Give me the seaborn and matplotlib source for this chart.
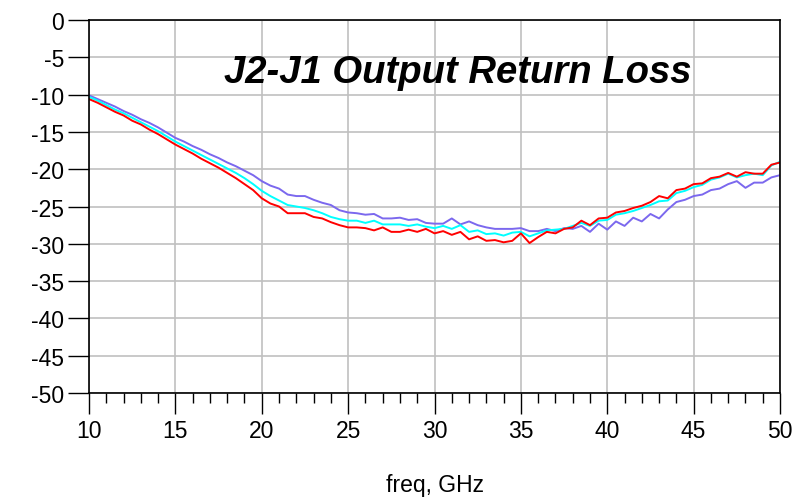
import numpy as np
import pandas as pd
import seaborn as sns
import matplotlib
matplotlib.use("Agg")
import matplotlib.pyplot as plt
from matplotlib.ticker import MultipleLocator

# frequency sweep, GHz (0.5 GHz steps)
freq = [10 + 0.5 * i for i in range(81)]

s22_red = [-10.6, -11.1, -11.7, -12.3, -12.8, -13.5, -14.0, -14.7, -15.3, -16.0,
           -16.7, -17.3, -17.9, -18.6, -19.2, -19.8, -20.5, -21.2, -22.0, -22.8,
           -23.9, -24.6, -25.0, -25.9, -25.9, -25.9, -26.4, -26.6, -27.1, -27.5,
           -27.8, -27.8, -27.9, -28.2, -27.8, -28.4, -28.4, -28.1, -28.4, -28.0,
           -28.6, -28.3, -28.8, -28.4, -29.4, -29.0, -29.6, -29.5, -29.8, -29.6,
           -28.6, -29.9, -29.1, -28.4, -28.6, -28.0, -27.8, -26.9, -27.5, -26.6,
           -26.5, -25.8, -25.6, -25.2, -24.9, -24.4, -23.6, -23.9, -22.8, -22.6,
           -22.0, -21.9, -21.2, -21.0, -20.5, -21.0, -20.4, -20.6, -20.6, -19.4,
           -19.1]

s22_cyan = [-10.3, -10.8, -11.4, -12.0, -12.5, -13.1, -13.7, -14.3, -14.9, -15.6,
            -16.3, -16.9, -17.5, -18.1, -18.7, -19.3, -19.9, -20.5, -21.2, -22.0,
            -22.9, -23.6, -24.2, -24.8, -25.0, -25.2, -25.5, -25.9, -26.4, -26.7,
            -26.9, -26.9, -27.2, -26.9, -27.4, -27.4, -27.4, -27.6, -27.4, -27.7,
            -27.9, -27.6, -28.0, -27.5, -28.4, -28.2, -28.7, -28.6, -28.9, -28.5,
            -28.4, -29.0, -28.6, -28.2, -28.1, -28.0, -27.6, -27.2, -27.6, -26.9,
            -26.8, -26.1, -25.9, -25.6, -25.2, -24.8, -24.3, -24.2, -23.2, -22.9,
            -22.4, -22.1, -21.4, -21.1, -20.6, -21.1, -20.8, -20.6, -20.8, -19.5,
            -19.0]

s22_purple = [-10.1, -10.6, -11.1, -11.6, -12.2, -12.7, -13.3, -13.8, -14.4, -15.1,
              -15.8, -16.3, -16.9, -17.4, -18.0, -18.5, -19.1, -19.6, -20.2, -20.8,
              -21.6, -22.2, -22.6, -23.4, -23.6, -23.6, -24.1, -24.5, -24.8, -25.5,
              -25.8, -25.9, -26.1, -26.0, -26.6, -26.6, -26.5, -26.8, -26.7, -27.2,
              -27.3, -27.3, -26.6, -27.4, -27.0, -27.5, -27.8, -28.0, -28.0, -28.0,
              -27.9, -28.3, -28.3, -28.0, -28.3, -27.9, -28.0, -27.6, -28.4, -27.3,
              -28.1, -27.0, -27.6, -26.5, -27.0, -26.0, -26.6, -25.4, -24.4, -24.1,
              -23.6, -23.4, -22.8, -22.6, -22.0, -21.6, -22.5, -21.8, -21.8, -21.1,
              -20.8]

x_ticks = [10, 15, 20, 25, 30, 35, 40, 45, 50]
y_ticks = [0, -5, -10, -15, -20, -25, -30, -35, -40, -45, -50]

sns.set_style("white")
plt.rcParams['font.family'] = ['Liberation Sans', 'DejaVu Sans']
plt.rcParams['text.color'] = 'black'
plt.rcParams['xtick.color'] = 'black'
plt.rcParams['ytick.color'] = 'black'
plt.rcParams['axes.labelcolor'] = 'black'

df = pd.DataFrame({
    "freq": freq * 3,
    "dB": s22_purple + s22_cyan + s22_red,
    "trace": ["purple"] * 81 + ["cyan"] * 81 + ["red"] * 81,
})
palette = {"purple": "#7b68ee", "cyan": "#00ffff", "red": "#ff0000"}

fig = plt.figure(figsize=(7.94, 5.02), dpi=100)
ax = fig.add_axes([0.1121, 0.2151, 0.8703, 0.7431])

ax.grid(True, color="#c0c0c0", linewidth=1.2)
ax.set_axisbelow(True)

sns.lineplot(data=df, x="freq", y="dB", hue="trace", palette=palette,
             linewidth=1.4, legend=False, ax=ax)

ax.set_xlim(10, 50)
ax.set_ylim(-50, 0)
ax.set_xticks(x_ticks)
ax.set_yticks(y_ticks)
ax.set_yticklabels([str(v) for v in y_ticks])
ax.xaxis.set_minor_locator(MultipleLocator(1))

ax.tick_params(axis="both", which="major", direction="out", length=15,
               width=1.0, color="black", labelcolor="black", labelsize=16.5, pad=3)
ax.tick_params(axis="x", which="major", pad=4)
ax.tick_params(axis="x", which="minor", direction="out", length=7.5,
               width=1.0, color="black")
ax.tick_params(axis="both", which="both", bottom=True, left=True)

for sp in ax.spines.values():
    sp.set_visible(True)
    sp.set_color("black")
    sp.set_linewidth(1.2)

ax.set_xlabel("freq, GHz", fontsize=16.5, labelpad=22, color="black")
ax.set_ylabel("")

ax.text(0.533, 0.86, "J2-J1 Output Return Loss", transform=ax.transAxes,
        fontsize=27.5, fontweight="bold", fontstyle="italic",
        ha="center", va="center", color="black")

fig.savefig("out.png", dpi=100)
